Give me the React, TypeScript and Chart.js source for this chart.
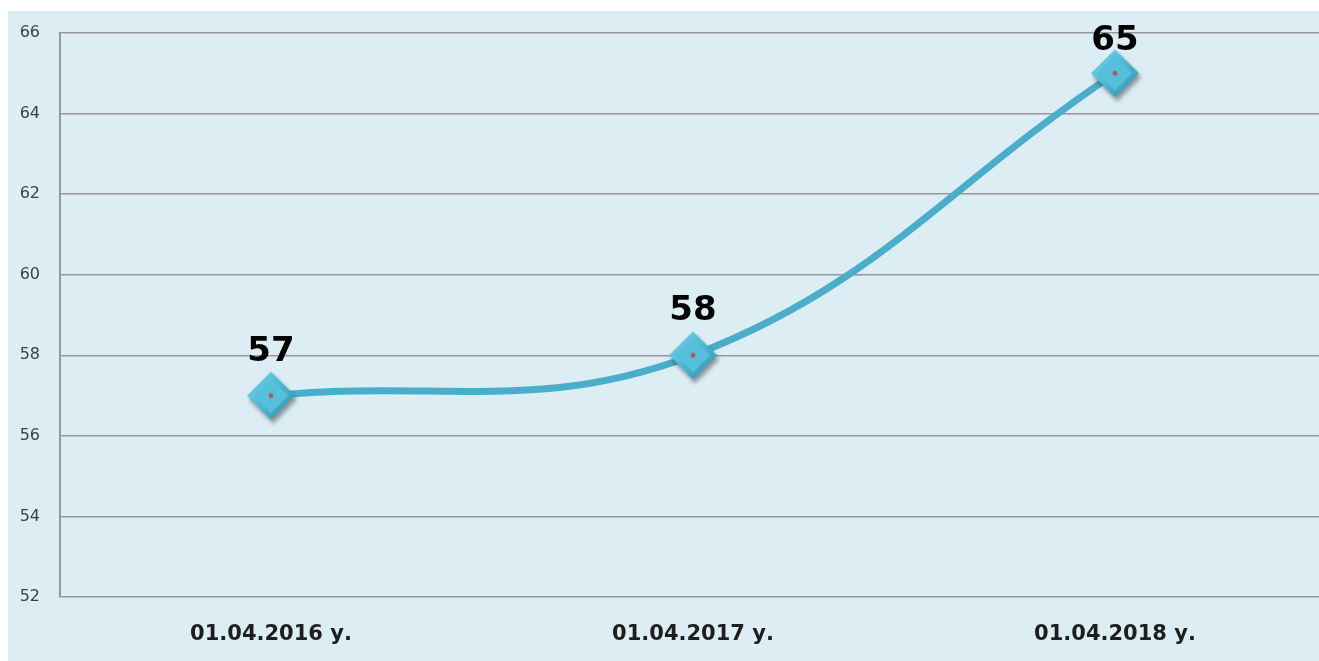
import React, { useEffect, useRef } from "react";
import { Chart, registerables } from "chart.js";

Chart.register(...registerables);

const categories = ["01.04.2016 у.", "01.04.2017 у.", "01.04.2018 у."];
const values = [57, 58, 65];
const yMin = 52;
const yMax = 66;
const yStep = 2;

function makeMarker(): HTMLCanvasElement {
  const c = document.createElement("canvas");
  c.width = 64;
  c.height = 64;
  const g = c.getContext("2d")!;
  const cx = 32, cy = 32, r = 24, ri = 17;
  g.save();
  g.shadowColor = "rgba(0,0,0,0.38)";
  g.shadowBlur = 4;
  g.shadowOffsetX = 2;
  g.shadowOffsetY = 4;
  const grad = g.createLinearGradient(cx - r, cy - r, cx + r, cy + r);
  grad.addColorStop(0, "#7ad4eb");
  grad.addColorStop(0.5, "#4db7d4");
  grad.addColorStop(1, "#2f8eaa");
  g.fillStyle = grad;
  g.beginPath();
  g.moveTo(cx, cy - r);
  g.lineTo(cx + r, cy);
  g.lineTo(cx, cy + r);
  g.lineTo(cx - r, cy);
  g.closePath();
  g.fill();
  g.restore();
  g.fillStyle = "#56bfdc";
  g.beginPath();
  g.moveTo(cx, cy - ri);
  g.lineTo(cx + ri, cy);
  g.lineTo(cx, cy + ri);
  g.lineTo(cx - ri, cy);
  g.closePath();
  g.fill();
  g.fillStyle = "#c0504d";
  g.beginPath();
  g.arc(cx, cy, 2.4, 0, Math.PI * 2);
  g.fill();
  return c;
}

const labelPlugin = {
  id: "valueLabels",
  afterDatasetsDraw(chart: any) {
    const ctx = chart.ctx;
    const meta = chart.getDatasetMeta(0);
    ctx.save();
    ctx.font = "bold 34px 'DejaVu Sans'";
    ctx.fillStyle = "#000000";
    ctx.textAlign = "center";
    ctx.textBaseline = "alphabetic";
    meta.data.forEach((pt: any, i: number) => {
      const y = Math.max(pt.y - 35, 39);
      ctx.fillText(String(values[i]), pt.x, y);
    });
    ctx.restore();
  },
};

export default function App() {
  const ref = useRef<HTMLCanvasElement | null>(null);
  useEffect(() => {
    if (!ref.current) return;
    const marker = makeMarker();
    const chart = new Chart(ref.current, {
      type: "line",
      data: {
        labels: categories,
        datasets: [
          {
            data: values,
            borderColor: "#4aadca",
            borderWidth: 7,
            borderCapStyle: "round",
            tension: 0.4,
            fill: false,
            pointStyle: marker as any,
            pointRadius: 24,
            pointHoverRadius: 24,
            clip: false as any,
          },
        ],
      },
      options: {
        responsive: false,
        animation: false,
        layout: { autoPadding: false, padding: { top: 22, right: 2, left: 0, bottom: 0 } } as any,
        plugins: {
          legend: { display: false },
          tooltip: { enabled: false },
        },
        scales: {
          x: {
            offset: true,
            grid: { display: false },
            border: { display: false },
            ticks: {
              color: "#1e1e1e",
              font: { family: "'DejaVu Sans'", size: 21, weight: "bold" },
              padding: 17,
              maxRotation: 0,
            },
            afterFit(scale: any) {
              scale.height = 64;
              scale.paddingLeft = 0;
              scale.paddingRight = 0;
            },
          },
          y: {
            min: yMin,
            max: yMax,
            grid: { color: "#989898", lineWidth: 1.5, drawTicks: false },
            border: { display: true, color: "#989898", width: 2 },
            ticks: {
              stepSize: yStep,
              color: "#404040",
              font: { family: "'DejaVu Sans'", size: 16 },
              padding: 20,
            },
            afterFit(scale: any) {
              scale.width = 52;
              scale.paddingTop = 0;
              scale.paddingBottom = 0;
            },
          },
        },
      },
      plugins: [labelPlugin],
    });
    return () => chart.destroy();
  }, []);
  return (
    <div
      style={{
        position: "absolute",
        left: 8,
        top: 11,
        width: 1311,
        height: 650,
        overflow: "hidden",
        background: "#dcedf3",
      }}
    >
      <canvas ref={ref} width={1320} height={650} style={{ display: "block" }} />
    </div>
  );
}
